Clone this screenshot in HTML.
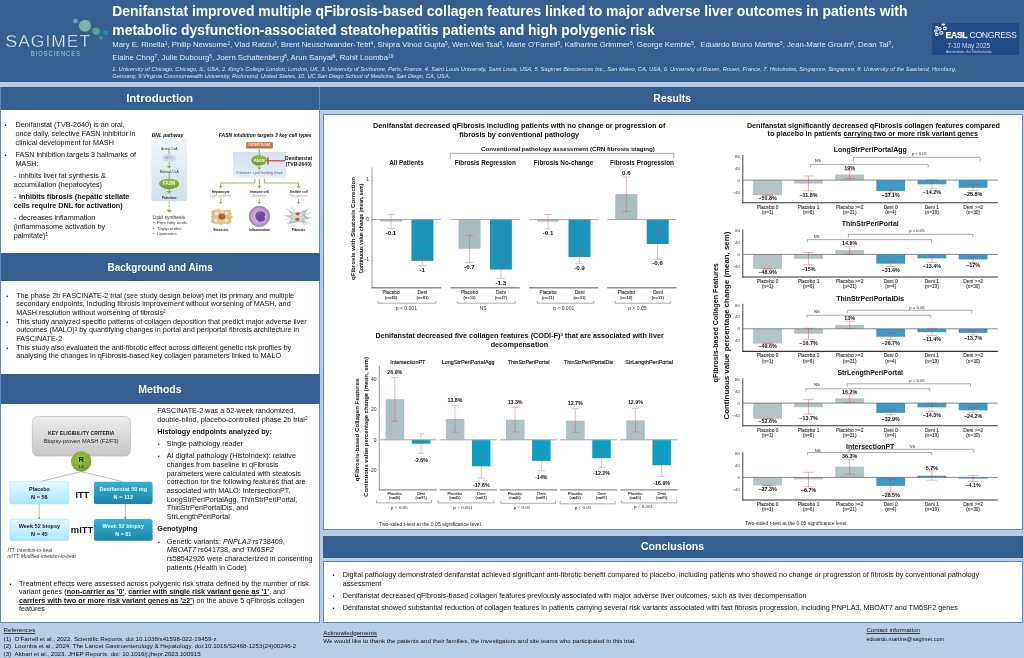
<!DOCTYPE html>
<html lang="en"><head><meta charset="utf-8"><title>Denifanstat qFibrosis poster</title>
<style>
html,body{margin:0;padding:0;}
body{width:1024px;height:658px;position:relative;overflow:hidden;background:#b8cce4;font-family:"Liberation Sans",sans-serif;color:#111;}
.t{position:absolute;white-space:nowrap;line-height:1.15;}
.b{position:absolute;box-sizing:border-box;}
.hd{position:absolute;background:#365f91;color:#fff;font-family:"Liberation Sans",sans-serif;font-weight:bold;text-align:center;box-sizing:border-box;}
.w{white-space:normal;}
sup{font-size:62%;line-height:0;vertical-align:baseline;position:relative;top:-0.42em;}
svg{position:absolute;left:0;top:0;overflow:visible;}
svg text{font-family:"Liberation Sans",sans-serif;}
u{text-decoration-thickness:0.45px;text-underline-offset:0.6px;text-decoration-color:rgba(0,0,0,0.7);}
</style></head>
<body>
<div class="b" style="left:0px;top:0px;width:1024px;height:81.5px;background:#365f91;"></div>
<svg width="1024" height="90" viewBox="0 0 1024 90"><path d="M75.5 21L85 25.7L96.1 31.1L105.8 33M96.1 31.1L101.1 38.1" stroke="#5f9aa0" stroke-width="0.35" fill="none"/><circle cx="85" cy="25.7" r="6.0" fill="#78b4a4"/><circle cx="75.5" cy="21" r="2.4" fill="#6aa9a2"/><circle cx="96.1" cy="31.1" r="3.7" fill="#55a398"/><circle cx="105.8" cy="33" r="2.4" fill="#0a98b6"/><circle cx="101.1" cy="38.1" r="1.5" fill="#4b9aa6"/></svg>
<div class="t " style="left:5.5px;top:30.7px;font-size:17.4px;letter-spacing:1.05px;color:#eef2f8;font-weight:normal;line-height:20px;-webkit-text-stroke:0.38px #365f91;">SAGIMET</div>
<div class="t" style="left:31.0px;top:48.7px;font-size:7.2px;line-height:9px;letter-spacing:1.15px;color:#b9cbe0;transform-origin:0 0;transform:scaleX(0.805);">BIOSCIENCES</div>
<div class="t " style="left:112.3px;top:3.2px;font-size:13.925px;color:#fff;font-weight:bold;line-height:17px;">Denifanstat improved multiple qFibrosis-based collagen features linked to major adverse liver outcomes in patients with</div>
<div class="t " style="left:112.3px;top:22.2px;font-size:13.925px;color:#fff;font-weight:bold;line-height:17px;">metabolic dysfunction-associated steatohepatitis patients and high polygenic risk</div>
<div class="t " style="left:112.3px;top:39.6px;font-size:7.75px;color:#e4ebf4;line-height:10px;">Mary E. Rinella<sup>1</sup>, Philip Newsome<sup>2</sup>, Vlad Ratziu<sup>3</sup>, Brent Neuschwander-Tetri<sup>4</sup>, Shipra Vinod Gupta<sup>5</sup>, Wen-Wei Tsai<sup>5</sup>, Marie O'Farrell<sup>5</sup>, Katharine Grimmer<sup>5</sup>, George Kemble<sup>5</sup>, &nbsp;Eduardo Bruno Martins<sup>5</sup>, Jean-Marie Grouin<sup>6</sup>, Dean Tai<sup>7</sup>,</div>
<div class="t " style="left:112.3px;top:53.0px;font-size:7.75px;color:#e4ebf4;line-height:10px;">Elaine Chng<sup>7</sup>, Julie Dubourg<sup>5</sup>, Joern Schattenberg<sup>8</sup>, Arun Sanyal<sup>9</sup>, Rohit Loomba<sup>10</sup></div>
<div class="t " style="left:112.3px;top:66.0px;font-size:5.685px;color:#dbe4f0;font-style:italic;line-height:7px;">1. University of Chicago, Chicago, IL, USA, 2. King's College London, London, UK, 3. University of Sorbonne, Paris, France, 4. Saint Louis University, Saint Louis, USA, 5. Sagimet Biosciences Inc., San Mateo, CA, USA, 6. University of Rouen, Rouen, France, 7. Histoindex, Singapore, Singapore, 8. University of the Saarland, Homburg,</div>
<div class="t " style="left:112.3px;top:72.7px;font-size:5.685px;color:#dbe4f0;font-style:italic;line-height:7px;">Germany, 9.Virginia Commonwealth University, Richmond, United States, 10. UC San Diego School of Medicine, San Diego, CA, USA.</div>
<div class="b" style="left:932px;top:23px;width:86.6px;height:32px;background:#234b8b;"></div>
<svg width="1024" height="90" viewBox="0 0 1024 90"><g fill="none" stroke="#f4f7fb" stroke-width="1.05"><ellipse cx="943.3" cy="24.6" rx="1.5" ry="0.5"/><ellipse cx="944.9" cy="28.4" rx="1.5" ry="1.3"/><ellipse cx="939.7" cy="28.8" rx="1.5" ry="1.3"/><ellipse cx="936.9" cy="27.3" rx="1.1" ry="0.9"/><ellipse cx="935.9" cy="31.0" rx="1.3" ry="1.2"/><ellipse cx="941.3" cy="32.8" rx="1.6" ry="1.4"/><ellipse cx="936.8" cy="34.3" rx="1.3" ry="1.1"/></g></svg>
<div class="t " style="left:945.5px;top:29.6px;font-size:8.7px;color:#fff;line-height:11px;letter-spacing:-0.33px;"><b style="-webkit-text-stroke:0.25px #fff">EASL</b> <span style="font-weight:normal;color:#e3eaf4">CONGRESS</span></div>
<div class="t " style="left:947.6px;top:41.9px;font-size:6.38px;color:#cfdaea;line-height:8px;">7-10 May 2025</div>
<div class="t " style="left:945.9px;top:50.1px;font-size:3.62px;color:#c3d0e4;line-height:5px;">Amsterdam, the Netherlands</div>
<div class="b" style="left:0px;top:86.5px;width:319.9px;height:536px;background:#fff;border:1px solid #5f88be;border-top:none;"></div>
<div class="hd" style="left:0px;top:86.5px;width:319.4px;height:23.2px;line-height:23.2px;font-size:11.2px;"><span style="display:inline-block;transform:scaleX(1.0257);">Introduction</span></div>
<div class="hd" style="left:0px;top:252.8px;width:319.9px;height:28.6px;line-height:28.6px;font-size:11.2px;"><span style="display:inline-block;transform:scaleX(0.8890);">Background and Aims</span></div>
<div class="hd" style="left:0px;top:373.9px;width:319.9px;height:30.2px;line-height:30.2px;font-size:11.2px;"><span style="display:inline-block;transform:scaleX(0.9426);">Methods</span></div>
<div class="b" style="left:0px;top:86.5px;width:1.2px;height:536px;background:#5f88be;"></div>
<div class="hd" style="left:320.1px;top:86.5px;width:703.9px;height:23.2px;line-height:23.2px;font-size:11.2px;"><span style="display:inline-block;transform:scaleX(0.9331);">Results</span></div>
<div class="b" style="left:322.9px;top:114px;width:700.3px;height:416px;background:#fff;border:1px solid #5f88be;"></div>
<div class="hd" style="left:322.9px;top:535.8px;width:700.3px;height:21.8px;line-height:21.8px;font-size:11.2px;"><span style="display:inline-block;transform:scaleX(0.9404);">Conclusions</span></div>
<div class="b" style="left:322.9px;top:560.6px;width:700.3px;height:62px;background:#fff;border:1px solid #5f88be;"></div>
<div class="t" style="left:4.4px;top:121.30px;font-size:5.6px;line-height:9px;">&bull;</div>
<div class="t" style="left:15.6px;top:120.40px;font-size:7.22px;line-height:9px;">Denifanstat (TVB-2640) is an oral,</div>
<div class="t" style="left:15.6px;top:129.20px;font-size:7.22px;line-height:9px;">once daily, selective FASN inhibitor in</div>
<div class="t" style="left:15.6px;top:137.80px;font-size:7.22px;line-height:9px;">clinical development for MASH</div>
<div class="t" style="left:4.4px;top:151.10px;font-size:5.6px;line-height:9px;">&bull;</div>
<div class="t" style="left:15.6px;top:150.20px;font-size:7.22px;line-height:9px;">FASN inhibition targets 3 hallmarks of</div>
<div class="t" style="left:15.6px;top:158.80px;font-size:7.22px;line-height:9px;">MASH:</div>
<div class="t" style="left:13.7px;top:171.30px;font-size:7.22px;line-height:9px;"><span style="display:inline-block;width:5.4px">-</span>inhibits liver fat synthesis &amp;</div>
<div class="t" style="left:13.7px;top:179.90px;font-size:7.22px;line-height:9px;">accumulation (hepatocytes)</div>
<div class="t" style="left:13.7px;top:191.80px;font-size:7.22px;line-height:9px;"><span style="display:inline-block;width:5.4px">-</span><b>inhibits fibrosis (hepatic stellate</b></div>
<div class="t" style="left:13.7px;top:200.60px;font-size:7.22px;line-height:9px;"><b>cells require DNL for activation)</b></div>
<div class="t" style="left:13.7px;top:213.00px;font-size:7.22px;line-height:9px;"><span style="display:inline-block;width:5.4px">-</span>decreases inflammation</div>
<div class="t" style="left:13.7px;top:221.90px;font-size:7.22px;line-height:9px;">(inflammasome activation by</div>
<div class="t" style="left:13.7px;top:230.70px;font-size:7.22px;line-height:9px;">palmitate)<sup>1</sup></div>
<div class="t" style="left:6.2px;top:291.60px;font-size:5.6px;line-height:9px;">&bull;</div>
<div class="t" style="left:16.2px;top:290.70px;font-size:7.22px;line-height:9px;">The phase 2b FASCINATE-2 trial (see study design below) met its primary and multiple</div>
<div class="t" style="left:16.2px;top:299.20px;font-size:7.22px;line-height:9px;">secondary endpoints, including fibrosis improvement without worsening of MASH, and</div>
<div class="t" style="left:16.2px;top:307.60px;font-size:7.22px;line-height:9px;">MASH resolution without worsening of fibrosis<sup>2</sup></div>
<div class="t" style="left:6.2px;top:317.90px;font-size:5.6px;line-height:9px;">&bull;</div>
<div class="t" style="left:16.2px;top:317.00px;font-size:7.22px;line-height:9px;">This study analyzed specific patterns of collagen deposition that predict major adverse liver</div>
<div class="t" style="left:16.2px;top:325.40px;font-size:7.22px;line-height:9px;">outcomes (MALO)<sup>3</sup> by quantifying changes in portal and periportal fibrosis architecture in</div>
<div class="t" style="left:16.2px;top:333.80px;font-size:7.22px;line-height:9px;">FASCINATE-2</div>
<div class="t" style="left:6.2px;top:343.80px;font-size:5.6px;line-height:9px;">&bull;</div>
<div class="t" style="left:16.2px;top:342.90px;font-size:7.22px;line-height:9px;">This study also evaluated the anti-fibrotic effect across different genetic risk profiles by</div>
<div class="t" style="left:16.2px;top:351.40px;font-size:7.22px;line-height:9px;">analysing the changes in qFibrosis-based key collagen parameters linked to MALO</div>
<div class="t" style="left:157.3px;top:405.90px;font-size:7.22px;line-height:9px;">FASCINATE-2 was a 52-week randomized,</div>
<div class="t" style="left:157.3px;top:414.70px;font-size:7.22px;line-height:9px;">double-blind, placebo-controlled phase 2b trial<sup>2</sup></div>
<div class="t" style="left:157.3px;top:427.00px;font-size:7.22px;line-height:9px;"><b>Histology endpoints analyzed by:</b></div>
<div class="t" style="left:157.79999999999998px;top:439.80px;font-size:5.6px;line-height:9px;">&bull;</div>
<div class="t" style="left:166.8px;top:438.90px;font-size:7.22px;line-height:9px;">Single pathology reader</div>
<div class="t" style="left:157.79999999999998px;top:452.00px;font-size:5.6px;line-height:9px;">&bull;</div>
<div class="t" style="left:166.8px;top:451.10px;font-size:7.22px;line-height:9px;">AI digital pathology (HistoIndex): relative</div>
<div class="t" style="left:166.8px;top:459.90px;font-size:7.22px;line-height:9px;">changes from baseline in qFibrosis</div>
<div class="t" style="left:166.8px;top:468.60px;font-size:7.22px;line-height:9px;">parameters were calculated with steatosis</div>
<div class="t" style="left:166.8px;top:477.40px;font-size:7.22px;line-height:9px;">correction for the following features that are</div>
<div class="t" style="left:166.8px;top:486.10px;font-size:7.22px;line-height:9px;">associated with MALO: IntersectionPT,</div>
<div class="t" style="left:166.8px;top:494.80px;font-size:7.22px;line-height:9px;">LongStrPeriPortalAgg, ThinStrPeriPortal,</div>
<div class="t" style="left:166.8px;top:503.30px;font-size:7.22px;line-height:9px;">ThinStrPeriPortalDis, and</div>
<div class="t" style="left:166.8px;top:512.00px;font-size:7.22px;line-height:9px;">StrLengthPeriPortal</div>
<div class="t" style="left:157.3px;top:524.20px;font-size:7.22px;line-height:9px;"><b>Genotyping</b></div>
<div class="t" style="left:157.79999999999998px;top:537.70px;font-size:5.6px;line-height:9px;">&bull;</div>
<div class="t" style="left:166.8px;top:536.80px;font-size:7.22px;line-height:9px;">Genetic variants: <i>PNPLA3</i> rs738409,</div>
<div class="t" style="left:166.8px;top:545.30px;font-size:7.22px;line-height:9px;"><i>MBOAT7</i> rs641738, and <i>TM6SF2</i></div>
<div class="t" style="left:166.8px;top:554.00px;font-size:7.22px;line-height:9px;">rs58542926 were characterized in consenting</div>
<div class="t" style="left:166.8px;top:562.70px;font-size:7.22px;line-height:9px;">patients (Health in Code)</div>
<div class="t" style="left:9.6px;top:579.50px;font-size:5.6px;line-height:9px;">&bull;</div>
<div class="t" style="left:18.9px;top:578.60px;font-size:7.22px;line-height:9px;">Treatment effects were assessed across polygenic risk strata defined by the number of risk</div>
<div class="t" style="left:18.9px;top:587.20px;font-size:7.22px;line-height:9px;">variant genes (<b><u>non-carrier as '0'</u></b>, <b><u>carrier with single risk variant gene as '1'</u></b>, and</div>
<div class="t" style="left:18.9px;top:595.80px;font-size:7.22px;line-height:9px;"><b><u>carriers with two or more risk variant genes as '&ge;2'</u></b>) on the above 5 qFibrosis collagen</div>
<div class="t" style="left:18.9px;top:604.40px;font-size:7.22px;line-height:9px;">features</div>
<div class="t" style="left:3.6px;top:625.50px;font-size:6.2px;line-height:8px;"><u>References</u></div>
<div class="t" style="left:3.6px;top:634.60px;font-size:6.2px;line-height:8px;">(1) &nbsp;O'Farrell et al., 2022. Scientific Reports. doi:10.1038/s41598-022-19459-z</div>
<div class="t" style="left:3.6px;top:641.70px;font-size:6.2px;line-height:8px;">(2) &nbsp;Loomba et al., 2024. The Lancet Gastroenterology &amp; Hepatology. doi:10.1016/S2468-1253(24)00246-2</div>
<div class="t" style="left:3.6px;top:649.70px;font-size:6.2px;line-height:8px;">(3) &nbsp;Akbari et al., 2023. JHEP Reports. doi: 10.1016/j.jhepr.2023.100915</div>
<div class="t" style="left:323.3px;top:628.50px;font-size:6.2px;line-height:8px;"><u>Acknowledgements</u></div>
<div class="t" style="left:323.3px;top:636.90px;font-size:6.2px;line-height:8px;">We would like to thank the patients and their families, the investigators and site teams who participated in this trial.</div>
<div class="t" style="left:866.4px;top:625.90px;font-size:6.2px;line-height:8px;"><u>Contact information</u></div>
<div class="t" style="left:866.4px;top:635.20px;font-size:5.6px;line-height:8px;">eduardo.martins@sagimet.com</div>
<svg width="1024" height="658" viewBox="0 0 1024 658"><defs><linearGradient id="gbox" x1="0" y1="0" x2="0" y2="1"><stop offset="0" stop-color="#f1f6f9"/><stop offset="1" stop-color="#cfdfe9"/></linearGradient><linearGradient id="gbox2" x1="0" y1="0" x2="0" y2="1"><stop offset="0" stop-color="#d3e2ee"/><stop offset="1" stop-color="#e3edf4"/></linearGradient><linearGradient id="ggrn" x1="0" y1="0" x2="0" y2="1"><stop offset="0" stop-color="#8fbe45"/><stop offset="1" stop-color="#6fa12f"/></linearGradient><linearGradient id="gsug" x1="0" y1="0" x2="0" y2="1"><stop offset="0" stop-color="#d08a63"/><stop offset="1" stop-color="#b96d48"/></linearGradient><radialGradient id="gimm" cx="0.5" cy="0.5" r="0.5"><stop offset="0" stop-color="#e9dff0"/><stop offset="0.75" stop-color="#b99bd0"/><stop offset="1" stop-color="#9a78b8"/></radialGradient></defs><text x="151.70" y="136.68" font-size="5.0" text-anchor="start" font-weight="bold" font-style="italic" fill="#111">DNL pathway</text><rect x="151.40" y="137.90" width="35.60" height="63.00" rx="0.8" fill="url(#gbox)"/><text x="169.20" y="149.67" font-size="3.3" text-anchor="middle" font-weight="normal" font-style="normal" fill="#333">Acetyl-CoA</text><path d="M169.2 150.8V154.4" stroke="#84b540" stroke-width="0.9" fill="none"/><ellipse cx="169.2" cy="158.2" rx="7.4" ry="3.9" fill="#d6d9e7"/><text x="169.20" y="159.41" font-size="3.4" text-anchor="middle" font-weight="normal" font-style="normal" fill="#8e93a8">ACC</text><path d="M169.20 162.10V166.30" stroke="#84b540" stroke-width="0.9" fill="none"/><path d="M166.60 166.00H171.80L169.20 168.60Z" stroke="none" stroke-width="0.6" fill="#84b540"/><text x="169.20" y="173.17" font-size="3.3" text-anchor="middle" font-weight="normal" font-style="normal" fill="#333">Malonyl-CoA</text><path d="M169.2 174.3V178.6" stroke="#84b540" stroke-width="0.9" fill="none"/><ellipse cx="169.2" cy="183.8" rx="10.1" ry="5.4" fill="url(#ggrn)"/><text x="169.20" y="185.43" font-size="4.6" text-anchor="middle" font-weight="bold" font-style="normal" fill="#f4f9ea">FASN</text><path d="M169.20 189.00V191.40" stroke="#84b540" stroke-width="0.9" fill="none"/><path d="M166.40 191.10H172.00L169.20 193.70Z" stroke="none" stroke-width="0.6" fill="#84b540"/><text x="169.20" y="198.67" font-size="3.3" text-anchor="middle" font-weight="bold" font-style="normal" fill="#333">Palmitate</text><path d="M169.20 201.50V210.30" stroke="#84b540" stroke-width="0.9" fill="none" stroke-dasharray="2.2 1.2"/><path d="M166.40 210.00H172.00L169.20 212.80Z" stroke="none" stroke-width="0.6" fill="#84b540"/><text x="152.60" y="219.16" font-size="4.97" text-anchor="start" font-weight="normal" font-style="normal" fill="#333">Lipid synthesis</text><text x="153.00" y="224.46" font-size="4.4" text-anchor="start" font-weight="normal" font-style="normal" fill="#333">&bull; &nbsp;Free fatty acids</text><text x="153.00" y="229.86" font-size="4.4" text-anchor="start" font-weight="normal" font-style="normal" fill="#333">&bull; &nbsp;Triglycerides</text><text x="153.00" y="235.26" font-size="4.4" text-anchor="start" font-weight="normal" font-style="normal" fill="#333">&bull; &nbsp;Lipotoxins</text><text x="218.80" y="136.67" font-size="4.99" text-anchor="start" font-weight="bold" font-style="italic" fill="#111">FASN inhibition targets 3 key cell types</text><rect x="246.10" y="142.00" width="26.80" height="6.60" rx="1.0" fill="url(#gsug)"/><text x="259.50" y="146.26" font-size="2.7" text-anchor="middle" font-weight="bold" font-style="normal" fill="#f6e6dc">DIETARY SUGAR</text><rect x="232.90" y="152.00" width="53.30" height="25.60" rx="0" fill="url(#gbox2)"/><path d="M259.3 149.2V155.8" stroke="#84b540" stroke-width="0.9" fill="none"/><ellipse cx="259.0" cy="160.3" rx="7.9" ry="5.4" fill="url(#ggrn)"/><text x="259.30" y="161.98" font-size="3.9" text-anchor="middle" font-weight="bold" font-style="normal" fill="#f4f9ea">FASN</text><path d="M259.30 165.20V167.90" stroke="#84b540" stroke-width="0.9" fill="none"/><path d="M257.30 167.60H261.30L259.30 169.80Z" stroke="none" stroke-width="0.6" fill="#84b540"/><text x="259.40" y="173.94" font-size="3.5" text-anchor="middle" font-weight="normal" font-style="italic" fill="#4b5fae">Palmitate: Lipid building block</text><path d="M267.9 157.2V164.4" stroke="#e3262d" stroke-width="1.2" fill="none"/><path d="M268.0 160.8H285.0" stroke="#e3262d" stroke-width="1.1" fill="none"/><text x="298.60" y="159.56" font-size="4.96" text-anchor="middle" font-weight="bold" font-style="normal" fill="#111">Denifanstat</text><text x="298.60" y="165.56" font-size="4.96" text-anchor="middle" font-weight="bold" font-style="normal" fill="#111">(TVB-2640)</text><path d="M254.9 178.6V183.0H220.6V186.2" stroke="#84b540" stroke-width="0.9" fill="none"/><path d="M218.8 186.0H222.4L220.6 188.4Z" stroke="none" stroke-width="0.6" fill="#84b540"/><path d="M259.30 178.60V186.30" stroke="#84b540" stroke-width="0.9" fill="none"/><path d="M257.40 186.00H261.20L259.30 188.40Z" stroke="none" stroke-width="0.6" fill="#84b540"/><path d="M264.3 178.6V183.0H298.5V186.2" stroke="#84b540" stroke-width="0.9" fill="none"/><path d="M296.7 186.0H300.3L298.5 188.4Z" stroke="none" stroke-width="0.6" fill="#84b540"/><text x="220.80" y="193.07" font-size="3.3" text-anchor="middle" font-weight="bold" font-style="italic" fill="#222">Hepatocyte</text><text x="220.80" y="197.04" font-size="3.2" text-anchor="middle" font-weight="normal" font-style="italic" fill="#a0a0a0">Lipid synthesis</text><path d="M220.80 198.80V202.30" stroke="#84b540" stroke-width="0.8" fill="none"/><path d="M219.10 202.00H222.50L220.80 204.00Z" stroke="none" stroke-width="0.6" fill="#84b540"/><text x="220.80" y="230.62" font-size="3.45" text-anchor="middle" font-weight="bold" font-style="normal" fill="#222">Steatosis</text><text x="259.40" y="193.07" font-size="3.3" text-anchor="middle" font-weight="bold" font-style="italic" fill="#222">Immune cell</text><text x="259.40" y="197.04" font-size="3.2" text-anchor="middle" font-weight="normal" font-style="italic" fill="#a0a0a0">Activation</text><path d="M259.40 198.80V202.30" stroke="#84b540" stroke-width="0.8" fill="none"/><path d="M257.70 202.00H261.10L259.40 204.00Z" stroke="none" stroke-width="0.6" fill="#84b540"/><text x="259.40" y="230.62" font-size="3.45" text-anchor="middle" font-weight="bold" font-style="normal" fill="#222">Inflammation</text><text x="298.50" y="193.07" font-size="3.3" text-anchor="middle" font-weight="bold" font-style="italic" fill="#222">Stellate cell</text><text x="298.50" y="197.04" font-size="3.2" text-anchor="middle" font-weight="normal" font-style="italic" fill="#a0a0a0">Fibrogenesis</text><path d="M298.50 198.80V202.30" stroke="#84b540" stroke-width="0.8" fill="none"/><path d="M296.80 202.00H300.20L298.50 204.00Z" stroke="none" stroke-width="0.6" fill="#84b540"/><text x="298.50" y="230.62" font-size="3.45" text-anchor="middle" font-weight="bold" font-style="normal" fill="#222">Fibrosis</text><rect x="211.60" y="210.00" width="19.80" height="13.80" rx="2.2" fill="#d9c19a"/><path d="M210.6 211.5H213.4" stroke="#b79f7c" stroke-width="0.5" fill="none"/><path d="M210.6 214.0H213.4" stroke="#b79f7c" stroke-width="0.5" fill="none"/><path d="M210.6 216.5H213.4" stroke="#b79f7c" stroke-width="0.5" fill="none"/><path d="M210.6 219.0H213.4" stroke="#b79f7c" stroke-width="0.5" fill="none"/><path d="M210.6 221.5H213.4" stroke="#b79f7c" stroke-width="0.5" fill="none"/><circle cx="216.6" cy="213.6" r="1.9" fill="#f6e9b8"/><circle cx="226.6" cy="213.0" r="1.6" fill="#f6e9b8"/><circle cx="215.8" cy="220.4" r="1.7" fill="#f6e9b8"/><circle cx="226.2" cy="220.6" r="1.9" fill="#f6e9b8"/><circle cx="222.2" cy="211.6" r="1.3" fill="#f6e9b8"/><circle cx="218.0" cy="209.8" r="1.4" fill="#f1c23c"/><circle cx="229.6" cy="210.8" r="1.3" fill="#f1c23c"/><circle cx="231.4" cy="217.0" r="1.2" fill="#f1c23c"/><circle cx="221.0" cy="223.6" r="1.5" fill="#f1c23c"/><circle cx="227.8" cy="223.4" r="1.2" fill="#f1c23c"/><ellipse cx="221.8" cy="216.6" rx="3.3" ry="2.9" fill="#b4552e"/><ellipse cx="222.6" cy="216.0" rx="1.6" ry="1.3" fill="#cf6a3a"/><circle cx="259.4" cy="216.4" r="10.2" fill="url(#gimm)" stroke="#a27fc1" stroke-width="0.9"/><circle cx="259.4" cy="216.4" r="8.0" fill="none" stroke="#cdb9df" stroke-width="1.0" stroke-dasharray="1 1.1"/><path d="M255.4 215.4C255.6 211.6 260.2 210.2 263.4 212.0C266.2 213.6 266.0 216.6 263.6 216.8C266.0 217.8 265.2 221.0 262.0 221.6C258.0 222.2 255.2 219.4 255.4 215.4Z" stroke="none" stroke-width="0.6" fill="#6d4aa0"/><path d="M257.4 215.4C257.8 213.2 260.0 212.4 261.8 213.2" stroke="#8f70bb" stroke-width="0.8" fill="none"/><g transform="translate(297.8,216.4) scale(0.86,0.8) translate(-298.2,-216.6)"><path d="M284.0 206.6L312.6 226.2" stroke="#8db3d9" stroke-width="0.6" fill="none"/><path d="M284.2 226.0L312.4 205.6" stroke="#8db3d9" stroke-width="0.6" fill="none"/><path d="M282.4 215.0L314.2 218.6" stroke="#8db3d9" stroke-width="0.6" fill="none"/><path d="M283.0 221.2L313.6 212.0" stroke="#8db3d9" stroke-width="0.6" fill="none"/><path d="M290.8 204.8L306.8 228.8" stroke="#8db3d9" stroke-width="0.6" fill="none"/><path d="M286.6 209.6L295.0 212.2L302.0 210.8L310.6 207.2L305.6 214.4L311.8 219.4L304.4 220.6L309.4 226.2L300.4 223.4L294.4 224.4L286.6 226.4L291.6 219.6L284.4 216.4L291.2 214.2Z" stroke="none" stroke-width="0.6" fill="#b4bdb0"/><path d="M289.6 211.6L296.0 213.6L301.6 212.6L306.6 210.6L303.6 215.4L307.6 218.6L302.6 219.6L305.0 223.2L299.6 221.6L294.6 222.4L290.2 223.4L293.4 218.8L289.0 216.6L293.2 215.2Z" stroke="none" stroke-width="0.6" fill="#d5d9ce"/><ellipse cx="298.0" cy="213.4" rx="2.3" ry="1.9" fill="#c0583a"/><ellipse cx="297.6" cy="220.2" rx="2.3" ry="1.9" fill="#c0583a"/></g><defs><linearGradient id="ggry" x1="0" y1="0" x2="0" y2="1"><stop offset="0" stop-color="#ececec"/><stop offset="1" stop-color="#c6c6c6"/></linearGradient><linearGradient id="glb" x1="0" y1="0" x2="0" y2="1"><stop offset="0" stop-color="#e4f8ff"/><stop offset="1" stop-color="#a9e6fb"/></linearGradient><linearGradient id="gdb" x1="0" y1="0" x2="0" y2="1"><stop offset="0" stop-color="#34b3d8"/><stop offset="1" stop-color="#1c84a6"/></linearGradient><radialGradient id="gR" cx="0.45" cy="0.4" r="0.6"><stop offset="0" stop-color="#9cc544"/><stop offset="1" stop-color="#7aa32c"/></radialGradient></defs><rect x="32.40" y="416.50" width="98.00" height="39.50" rx="5.2" fill="url(#ggry)" stroke="#b4b4b4" stroke-width="0.6"/><text x="81.30" y="434.79" font-size="5.6" text-anchor="middle" font-weight="bold" font-style="normal" fill="#1a1a1a" textLength="66.5" lengthAdjust="spacingAndGlyphs">KEY ELIGIBILITY CRITERIA</text><text x="81.30" y="442.69" font-size="5.9" text-anchor="middle" font-weight="normal" font-style="normal" fill="#1a1a1a" textLength="74.5" lengthAdjust="spacingAndGlyphs">Biopsy-proven MASH (F2/F3)</text><path d="M81.2 471.6L40.0 481.6M81.2 471.6L122.4 481.6" stroke="#777" stroke-width="0.5" fill="none"/><path d="M39.2 504.0V519.0M125.3 504.0V519.0" stroke="#777" stroke-width="0.5" fill="none"/><path d="M38.2 517.6H40.2L39.2 519.2ZM124.3 517.6H126.3L125.3 519.2Z" stroke="none" stroke-width="0.6" fill="#555"/><circle cx="81.2" cy="461.5" r="10.2" fill="url(#gR)"/><text x="81.20" y="461.90" font-size="7.6" text-anchor="middle" font-weight="bold" font-style="normal" fill="#1a1a1a">R</text><text x="81.20" y="467.68" font-size="3.6" text-anchor="middle" font-weight="bold" font-style="normal" fill="#1a1a1a">1:2</text><rect x="9.80" y="481.40" width="59.10" height="22.60" rx="2.6" fill="url(#glb)" stroke="#9fdcf0" stroke-width="0.5"/><rect x="93.90" y="481.80" width="58.70" height="22.20" rx="2.6" fill="url(#gdb)"/><rect x="9.80" y="519.00" width="59.10" height="21.80" rx="2.6" fill="url(#glb)" stroke="#9fdcf0" stroke-width="0.5"/><rect x="93.90" y="519.00" width="58.70" height="21.80" rx="2.6" fill="url(#gdb)"/><text x="39.40" y="491.19" font-size="5.6" text-anchor="middle" font-weight="bold" font-style="normal" fill="#1a1a1a" textLength="20.6" lengthAdjust="spacingAndGlyphs">Placebo</text><text x="39.40" y="498.79" font-size="5.6" text-anchor="middle" font-weight="bold" font-style="normal" fill="#1a1a1a" textLength="16.6" lengthAdjust="spacingAndGlyphs">N = 56</text><text x="123.30" y="491.19" font-size="5.6" text-anchor="middle" font-weight="bold" font-style="normal" fill="#eefaff" textLength="47.7" lengthAdjust="spacingAndGlyphs">Denifanstat 50 mg</text><text x="123.30" y="498.79" font-size="5.6" text-anchor="middle" font-weight="bold" font-style="normal" fill="#eefaff" textLength="19.6" lengthAdjust="spacingAndGlyphs">N = 112</text><text x="39.40" y="528.29" font-size="5.6" text-anchor="middle" font-weight="bold" font-style="normal" fill="#1a1a1a" textLength="41.5" lengthAdjust="spacingAndGlyphs">Week 52 biopsy</text><text x="39.40" y="535.89" font-size="5.6" text-anchor="middle" font-weight="bold" font-style="normal" fill="#1a1a1a" textLength="16.6" lengthAdjust="spacingAndGlyphs">N = 45</text><text x="123.30" y="528.29" font-size="5.6" text-anchor="middle" font-weight="bold" font-style="normal" fill="#eefaff" textLength="41.5" lengthAdjust="spacingAndGlyphs">Week 52 biopsy</text><text x="123.30" y="535.89" font-size="5.6" text-anchor="middle" font-weight="bold" font-style="normal" fill="#eefaff" textLength="16.0" lengthAdjust="spacingAndGlyphs">N = 81</text><text x="82.20" y="498.24" font-size="9.4" text-anchor="middle" font-weight="bold" font-style="normal" fill="#111" textLength="13.6" lengthAdjust="spacingAndGlyphs">ITT</text><text x="82.00" y="532.54" font-size="9.4" text-anchor="middle" font-weight="bold" font-style="normal" fill="#111" textLength="22.4" lengthAdjust="spacingAndGlyphs">mITT</text><text x="7.60" y="551.90" font-size="4.8" text-anchor="start" font-weight="normal" font-style="italic" fill="#333">ITT: Intention-to-treat</text><text x="7.60" y="558.10" font-size="4.8" text-anchor="start" font-weight="normal" font-style="italic" fill="#333">mITT: Modified-intention-to-treat</text></svg>
<svg width="1024" height="658" viewBox="0 0 1024 658"><text x="519.20" y="127.77" font-size="7.24" text-anchor="middle" font-weight="bold" fill="#111">Denifanstat decreased qFibrosis including patients with no change or progression of</text><text x="519.20" y="136.57" font-size="7.24" text-anchor="middle" font-weight="bold" fill="#111">fibrosis by conventional pathology</text><text x="568.00" y="150.89" font-size="6.17" text-anchor="middle" font-weight="bold" fill="#111">Conventional pathology assessment (CRN fibrosis staging)</text><path d="M450.20 158.50V153.30H673.80V158.50" stroke="#777" stroke-width="0.6" fill="none"/><text transform="translate(353.30,228.50) rotate(-90)" x="0" y="2.18" font-size="6.147540983606558" text-anchor="middle" font-weight="bold" fill="#111">qFibrosis with Steatosis Correction</text><text transform="translate(361.60,228.70) rotate(-90)" x="0" y="1.75" font-size="4.917585822282811" text-anchor="middle" font-weight="bold" fill="#111">Continuous value change (mean, sem)</text><line x1="372.00" y1="167.60" x2="372.00" y2="288.30" stroke="#8c8c8c" stroke-width="0.9"/><text x="369.00" y="181.43" font-size="5.0" text-anchor="end" font-weight="normal" fill="#333">1</text><text x="369.00" y="221.28" font-size="5.0" text-anchor="end" font-weight="normal" fill="#333">0</text><text x="369.00" y="261.12" font-size="5.0" text-anchor="end" font-weight="normal" fill="#333">-1</text><text x="406.50" y="164.95" font-size="6.34" text-anchor="middle" font-weight="bold" fill="#111">All Patients</text><rect x="380.00" y="219.50" width="22.00" height="2.10" fill="#a9bdc1"/><rect x="411.40" y="219.50" width="22.00" height="41.40" fill="#1b93ba"/><line x1="372.00" y1="219.50" x2="441.20" y2="219.50" stroke="#8c8c8c" stroke-width="0.7"/><line x1="371.55" y1="287.80" x2="441.20" y2="287.80" stroke="#909090" stroke-width="1.4"/><path d="M387.00 214.60H395.00M391.00 214.60V228.80M387.00 228.80H395.00" stroke="#e63c3e" stroke-width="0.65" fill="none" stroke-opacity="0.55"/><path d="M418.30 255.60H426.30M422.30 255.60V265.60M418.30 265.60H426.30" stroke="#e63c3e" stroke-width="0.65" fill="none" stroke-opacity="0.55"/><text x="391.00" y="235.08" font-size="6.15" text-anchor="middle" font-weight="bold" fill="#111">-0.1</text><text x="422.30" y="271.98" font-size="6.15" text-anchor="middle" font-weight="bold" fill="#111">-1</text><text x="391.00" y="293.80" font-size="4.78" text-anchor="middle" font-weight="normal" fill="#333" stroke="#333" stroke-width="0.1">Placebo</text><text x="391.00" y="298.86" font-size="4.1" text-anchor="middle" font-weight="bold" fill="#333">(n=45)</text><text x="422.50" y="293.80" font-size="4.78" text-anchor="middle" font-weight="normal" fill="#333" stroke="#333" stroke-width="0.1">Deni</text><text x="422.50" y="298.86" font-size="4.1" text-anchor="middle" font-weight="bold" fill="#333">(n=81)</text><path d="M377.90 301.00V303.20H435.90V301.00" stroke="#777" stroke-width="0.6" fill="none"/><text x="406.40" y="309.79" font-size="5.04" text-anchor="middle" font-weight="normal" fill="#333">p &lt; 0.001</text><text x="485.20" y="164.96" font-size="6.37" text-anchor="middle" font-weight="bold" fill="#111">Fibrosis Regression</text><rect x="458.50" y="219.50" width="22.00" height="29.20" fill="#a9bdc1"/><rect x="489.90" y="219.50" width="22.00" height="50.00" fill="#1b93ba"/><line x1="450.50" y1="219.50" x2="519.70" y2="219.50" stroke="#8c8c8c" stroke-width="0.7"/><line x1="450.50" y1="287.80" x2="519.70" y2="287.80" stroke="#909090" stroke-width="1.4"/><path d="M465.50 235.30H473.50M469.50 235.30V262.50M465.50 262.50H473.50" stroke="#e63c3e" stroke-width="0.65" fill="none" stroke-opacity="0.55"/><path d="M496.80 260.50H504.80M500.80 260.50V278.30M496.80 278.30H504.80" stroke="#e63c3e" stroke-width="0.65" fill="none" stroke-opacity="0.55"/><text x="469.50" y="269.18" font-size="6.15" text-anchor="middle" font-weight="bold" fill="#111">-0.7</text><text x="500.80" y="284.78" font-size="6.15" text-anchor="middle" font-weight="bold" fill="#111">-1.3</text><text x="469.50" y="293.80" font-size="4.78" text-anchor="middle" font-weight="normal" fill="#333" stroke="#333" stroke-width="0.1">Placebo</text><text x="469.50" y="298.86" font-size="4.1" text-anchor="middle" font-weight="bold" fill="#333">(n=12)</text><text x="501.00" y="293.80" font-size="4.78" text-anchor="middle" font-weight="normal" fill="#333" stroke="#333" stroke-width="0.1">Deni</text><text x="501.00" y="298.86" font-size="4.1" text-anchor="middle" font-weight="bold" fill="#333">(n=37)</text><path d="M457.20 301.00V303.20H515.40V301.00" stroke="#777" stroke-width="0.6" fill="none"/><text x="483.20" y="309.79" font-size="5.04" text-anchor="middle" font-weight="normal" fill="#333">NS</text><text x="563.50" y="164.96" font-size="6.36" text-anchor="middle" font-weight="bold" fill="#111">Fibrosis No-change</text><rect x="537.10" y="219.50" width="22.00" height="2.10" fill="#a9bdc1"/><rect x="568.50" y="219.50" width="22.00" height="37.50" fill="#1b93ba"/><line x1="529.10" y1="219.50" x2="598.30" y2="219.50" stroke="#8c8c8c" stroke-width="0.7"/><line x1="529.10" y1="287.80" x2="598.30" y2="287.80" stroke="#909090" stroke-width="1.4"/><path d="M544.10 214.50H552.10M548.10 214.50V228.80M544.10 228.80H552.10" stroke="#e63c3e" stroke-width="0.65" fill="none" stroke-opacity="0.55"/><path d="M575.40 250.50H583.40M579.40 250.50V263.40M575.40 263.40H583.40" stroke="#e63c3e" stroke-width="0.65" fill="none" stroke-opacity="0.55"/><text x="548.10" y="235.08" font-size="6.15" text-anchor="middle" font-weight="bold" fill="#111">-0.1</text><text x="579.40" y="269.88" font-size="6.15" text-anchor="middle" font-weight="bold" fill="#111">-0.9</text><text x="548.10" y="293.80" font-size="4.78" text-anchor="middle" font-weight="normal" fill="#333" stroke="#333" stroke-width="0.1">Placebo</text><text x="548.10" y="298.86" font-size="4.1" text-anchor="middle" font-weight="bold" fill="#333">(n=21)</text><text x="579.60" y="293.80" font-size="4.78" text-anchor="middle" font-weight="normal" fill="#333" stroke="#333" stroke-width="0.1">Deni</text><text x="579.60" y="298.86" font-size="4.1" text-anchor="middle" font-weight="bold" fill="#333">(n=31)</text><path d="M537.30 301.00V303.20H593.70V301.00" stroke="#777" stroke-width="0.6" fill="none"/><text x="563.70" y="309.79" font-size="5.04" text-anchor="middle" font-weight="normal" fill="#333">p &lt; 0.001</text><text x="642.00" y="164.97" font-size="6.4" text-anchor="middle" font-weight="bold" fill="#111">Fibrosis Progression</text><rect x="615.30" y="194.10" width="22.00" height="25.40" fill="#a9bdc1"/><rect x="646.70" y="219.50" width="22.00" height="24.50" fill="#1b93ba"/><line x1="607.30" y1="219.50" x2="676.50" y2="219.50" stroke="#8c8c8c" stroke-width="0.7"/><line x1="607.30" y1="287.80" x2="676.50" y2="287.80" stroke="#909090" stroke-width="1.4"/><path d="M622.30 177.00H630.30M626.30 177.00V211.40M622.30 211.40H630.30" stroke="#e63c3e" stroke-width="0.65" fill="none" stroke-opacity="0.55"/><path d="M653.60 229.00H661.60M657.60 229.00V259.30M653.60 259.30H661.60" stroke="#e63c3e" stroke-width="0.65" fill="none" stroke-opacity="0.55"/><text x="626.30" y="175.08" font-size="6.15" text-anchor="middle" font-weight="bold" fill="#111">0.6</text><text x="657.60" y="265.08" font-size="6.15" text-anchor="middle" font-weight="bold" fill="#111">-0.6</text><text x="626.30" y="293.80" font-size="4.78" text-anchor="middle" font-weight="normal" fill="#333" stroke="#333" stroke-width="0.1">Placebo</text><text x="626.30" y="298.86" font-size="4.1" text-anchor="middle" font-weight="bold" fill="#333">(n=12)</text><text x="657.80" y="293.80" font-size="4.78" text-anchor="middle" font-weight="normal" fill="#333" stroke="#333" stroke-width="0.1">Deni</text><text x="657.80" y="298.86" font-size="4.1" text-anchor="middle" font-weight="bold" fill="#333">(n=13)</text><path d="M615.20 301.00V303.20H670.80V301.00" stroke="#777" stroke-width="0.6" fill="none"/><text x="637.50" y="309.79" font-size="5.04" text-anchor="middle" font-weight="normal" fill="#333">p &lt; 0.05</text><text x="519.60" y="338.47" font-size="7.24" text-anchor="middle" font-weight="bold" fill="#111">Denifanstat decreased five collagen features (CODI-F)<tspan dy="-2.4" font-size="4.4">3</tspan><tspan dy="2.4"> that are associated with liver</tspan></text><text x="519.40" y="346.57" font-size="7.24" text-anchor="middle" font-weight="bold" fill="#111">decompensation</text><text transform="translate(356.70,430.00) rotate(-90)" x="0" y="2.19" font-size="6.16" text-anchor="middle" font-weight="bold" fill="#111">qFibrosis-based Collagen Features</text><text transform="translate(365.60,427.00) rotate(-90)" x="0" y="2.08" font-size="5.85" text-anchor="middle" font-weight="bold" fill="#111">Continuous value percentage change (mean, sem)</text><line x1="379.30" y1="366.00" x2="379.30" y2="490.40" stroke="#8c8c8c" stroke-width="0.9"/><text x="376.60" y="381.30" font-size="5.0" text-anchor="end" font-weight="normal" fill="#333">40</text><text x="376.60" y="411.44" font-size="5.0" text-anchor="end" font-weight="normal" fill="#333">20</text><text x="376.60" y="441.57" font-size="5.0" text-anchor="end" font-weight="normal" fill="#333">0</text><text x="376.60" y="471.71" font-size="5.0" text-anchor="end" font-weight="normal" fill="#333">-20</text><text x="407.80" y="363.55" font-size="5.48" text-anchor="middle" font-weight="normal" fill="#111" stroke="#111" stroke-width="0.14">IntersectionPT</text><rect x="385.70" y="399.26" width="18.50" height="40.54" fill="#adc0c4"/><rect x="411.80" y="439.80" width="18.50" height="3.92" fill="#0a9fc6"/><line x1="379.30" y1="439.80" x2="436.80" y2="439.80" stroke="#a8a8a8" stroke-width="1.0"/><line x1="378.85" y1="489.80" x2="436.80" y2="489.80" stroke="#909090" stroke-width="1.3"/><path d="M391.30 377.40H398.30M394.80 377.40V421.30M391.30 421.30H398.30" stroke="#e63c3e" stroke-width="0.65" fill="none" stroke-opacity="0.55"/><path d="M417.60 433.80H424.60M421.10 433.80V453.20M417.60 453.20H424.60" stroke="#e63c3e" stroke-width="0.65" fill="none" stroke-opacity="0.55"/><text x="394.80" y="373.56" font-size="5.25" text-anchor="middle" font-weight="bold" fill="#111">26.9%</text><text x="421.10" y="461.76" font-size="5.25" text-anchor="middle" font-weight="bold" fill="#111">-2.6%</text><text x="394.70" y="494.94" font-size="4.05" text-anchor="middle" font-weight="normal" fill="#333" stroke="#333" stroke-width="0.1">Placebo</text><text x="394.70" y="499.28" font-size="3.9" text-anchor="middle" font-weight="normal" fill="#333" stroke="#333" stroke-width="0.1">(n=45)</text><text x="421.10" y="494.94" font-size="4.05" text-anchor="middle" font-weight="normal" fill="#333" stroke="#333" stroke-width="0.1">Deni</text><text x="421.10" y="499.28" font-size="3.9" text-anchor="middle" font-weight="normal" fill="#333" stroke="#333" stroke-width="0.1">(n=81)</text><path d="M376.50 500.20V502.90H431.50V500.20" stroke="#777" stroke-width="0.6" fill="none"/><text x="399.40" y="509.47" font-size="5.0" text-anchor="middle" font-weight="normal" fill="#222" style="font-family:&quot;Liberation Serif&quot;,serif">p &lt; 0.05</text><text x="468.20" y="363.55" font-size="5.48" text-anchor="middle" font-weight="normal" fill="#111" stroke="#111" stroke-width="0.14">LongStrPeriPortalAgg</text><rect x="445.85" y="419.00" width="18.50" height="20.80" fill="#adc0c4"/><rect x="471.95" y="439.80" width="18.50" height="26.52" fill="#0a9fc6"/><line x1="439.65" y1="439.80" x2="496.95" y2="439.80" stroke="#a8a8a8" stroke-width="1.0"/><line x1="439.65" y1="489.80" x2="496.95" y2="489.80" stroke="#909090" stroke-width="1.3"/><path d="M451.45 405.40H458.45M454.95 405.40V432.20M451.45 432.20H458.45" stroke="#e63c3e" stroke-width="0.65" fill="none" stroke-opacity="0.55"/><path d="M477.75 453.50H484.75M481.25 453.50V478.20M477.75 478.20H484.75" stroke="#e63c3e" stroke-width="0.65" fill="none" stroke-opacity="0.55"/><text x="454.95" y="401.86" font-size="5.25" text-anchor="middle" font-weight="bold" fill="#111">13.8%</text><text x="481.25" y="486.56" font-size="5.25" text-anchor="middle" font-weight="bold" fill="#111">-17.6%</text><text x="454.85" y="494.94" font-size="4.05" text-anchor="middle" font-weight="normal" fill="#333" stroke="#333" stroke-width="0.1">Placebo</text><text x="454.85" y="499.28" font-size="3.9" text-anchor="middle" font-weight="normal" fill="#333" stroke="#333" stroke-width="0.1">(n=45)</text><text x="481.25" y="494.94" font-size="4.05" text-anchor="middle" font-weight="normal" fill="#333" stroke="#333" stroke-width="0.1">Deni</text><text x="481.25" y="499.28" font-size="3.9" text-anchor="middle" font-weight="normal" fill="#333" stroke="#333" stroke-width="0.1">(n=81)</text><path d="M438.20 500.20V502.90H493.70V500.20" stroke="#777" stroke-width="0.6" fill="none"/><text x="462.90" y="508.77" font-size="5.0" text-anchor="middle" font-weight="normal" fill="#222" style="font-family:&quot;Liberation Serif&quot;,serif">p &lt; 0.001</text><text x="528.60" y="363.55" font-size="5.48" text-anchor="middle" font-weight="normal" fill="#111" stroke="#111" stroke-width="0.14">ThinStrPeriPortal</text><rect x="506.00" y="419.76" width="18.50" height="20.04" fill="#adc0c4"/><rect x="532.10" y="439.80" width="18.50" height="21.10" fill="#0a9fc6"/><line x1="499.80" y1="439.80" x2="557.10" y2="439.80" stroke="#a8a8a8" stroke-width="1.0"/><line x1="499.80" y1="489.80" x2="557.10" y2="489.80" stroke="#909090" stroke-width="1.3"/><path d="M511.60 407.40H518.60M515.10 407.40V431.90M511.60 431.90H518.60" stroke="#e63c3e" stroke-width="0.65" fill="none" stroke-opacity="0.55"/><path d="M537.90 450.70H544.90M541.40 450.70V470.80M537.90 470.80H544.90" stroke="#e63c3e" stroke-width="0.65" fill="none" stroke-opacity="0.55"/><text x="515.10" y="403.76" font-size="5.25" text-anchor="middle" font-weight="bold" fill="#111">13.3%</text><text x="541.40" y="479.16" font-size="5.25" text-anchor="middle" font-weight="bold" fill="#111">-14%</text><text x="515.00" y="494.94" font-size="4.05" text-anchor="middle" font-weight="normal" fill="#333" stroke="#333" stroke-width="0.1">Placebo</text><text x="515.00" y="499.28" font-size="3.9" text-anchor="middle" font-weight="normal" fill="#333" stroke="#333" stroke-width="0.1">(n=45)</text><text x="541.40" y="494.94" font-size="4.05" text-anchor="middle" font-weight="normal" fill="#333" stroke="#333" stroke-width="0.1">Deni</text><text x="541.40" y="499.28" font-size="3.9" text-anchor="middle" font-weight="normal" fill="#333" stroke="#333" stroke-width="0.1">(n=81)</text><path d="M500.90 500.60V503.30H555.60V500.60" stroke="#777" stroke-width="0.6" fill="none"/><text x="522.00" y="509.07" font-size="5.0" text-anchor="middle" font-weight="normal" fill="#222" style="font-family:&quot;Liberation Serif&quot;,serif">p &lt; 0.01</text><text x="588.60" y="363.55" font-size="5.48" text-anchor="middle" font-weight="normal" fill="#111" stroke="#111" stroke-width="0.14">ThinStrPeriPortalDis</text><rect x="566.15" y="420.66" width="18.50" height="19.14" fill="#adc0c4"/><rect x="592.25" y="439.80" width="18.50" height="18.39" fill="#0a9fc6"/><line x1="559.95" y1="439.80" x2="617.25" y2="439.80" stroke="#a8a8a8" stroke-width="1.0"/><line x1="559.95" y1="489.80" x2="617.25" y2="489.80" stroke="#909090" stroke-width="1.3"/><path d="M571.75 408.70H578.75M575.25 408.70V432.30M571.75 432.30H578.75" stroke="#e63c3e" stroke-width="0.65" fill="none" stroke-opacity="0.55"/><path d="M598.05 448.40H605.05M601.55 448.40V467.30M598.05 467.30H605.05" stroke="#e63c3e" stroke-width="0.65" fill="none" stroke-opacity="0.55"/><text x="575.25" y="404.66" font-size="5.25" text-anchor="middle" font-weight="bold" fill="#111">12.7%</text><text x="601.55" y="475.46" font-size="5.25" text-anchor="middle" font-weight="bold" fill="#111">-12.2%</text><text x="575.15" y="494.94" font-size="4.05" text-anchor="middle" font-weight="normal" fill="#333" stroke="#333" stroke-width="0.1">Placebo</text><text x="575.15" y="499.28" font-size="3.9" text-anchor="middle" font-weight="normal" fill="#333" stroke="#333" stroke-width="0.1">(n=45)</text><text x="601.55" y="494.94" font-size="4.05" text-anchor="middle" font-weight="normal" fill="#333" stroke="#333" stroke-width="0.1">Deni</text><text x="601.55" y="499.28" font-size="3.9" text-anchor="middle" font-weight="normal" fill="#333" stroke="#333" stroke-width="0.1">(n=81)</text><path d="M560.20 501.10V503.80H615.20V501.10" stroke="#777" stroke-width="0.6" fill="none"/><text x="583.10" y="509.47" font-size="5.0" text-anchor="middle" font-weight="normal" fill="#222" style="font-family:&quot;Liberation Serif&quot;,serif">p &lt; 0.01</text><text x="649.10" y="363.55" font-size="5.48" text-anchor="middle" font-weight="normal" fill="#111" stroke="#111" stroke-width="0.14">StrLengthPeriPortal</text><rect x="626.30" y="420.36" width="18.50" height="19.44" fill="#adc0c4"/><rect x="652.40" y="439.80" width="18.50" height="25.47" fill="#0a9fc6"/><line x1="620.10" y1="439.80" x2="677.40" y2="439.80" stroke="#a8a8a8" stroke-width="1.0"/><line x1="620.10" y1="489.80" x2="677.40" y2="489.80" stroke="#909090" stroke-width="1.3"/><path d="M631.90 408.30H638.90M635.40 408.30V432.00M631.90 432.00H638.90" stroke="#e63c3e" stroke-width="0.65" fill="none" stroke-opacity="0.55"/><path d="M658.20 454.40H665.20M661.70 454.40V476.40M658.20 476.40H665.20" stroke="#e63c3e" stroke-width="0.65" fill="none" stroke-opacity="0.55"/><text x="635.40" y="404.16" font-size="5.25" text-anchor="middle" font-weight="bold" fill="#111">12.9%</text><text x="661.70" y="484.66" font-size="5.25" text-anchor="middle" font-weight="bold" fill="#111">-16.9%</text><text x="635.30" y="494.94" font-size="4.05" text-anchor="middle" font-weight="normal" fill="#333" stroke="#333" stroke-width="0.1">Placebo</text><text x="635.30" y="499.28" font-size="3.9" text-anchor="middle" font-weight="normal" fill="#333" stroke="#333" stroke-width="0.1">(n=45)</text><text x="661.70" y="494.94" font-size="4.05" text-anchor="middle" font-weight="normal" fill="#333" stroke="#333" stroke-width="0.1">Deni</text><text x="661.70" y="499.28" font-size="3.9" text-anchor="middle" font-weight="normal" fill="#333" stroke="#333" stroke-width="0.1">(n=81)</text><path d="M621.40 500.20V502.90H676.60V500.20" stroke="#777" stroke-width="0.6" fill="none"/><text x="643.50" y="508.38" font-size="5.0" text-anchor="middle" font-weight="normal" fill="#222" style="font-family:&quot;Liberation Serif&quot;,serif">p &lt; 0.001</text><text x="379.10" y="525.81" font-size="5.11" text-anchor="start" font-weight="normal" fill="#222">Two-sided t-test at the 0.05 significance level.</text><text x="873.40" y="127.76" font-size="7.21" text-anchor="middle" font-weight="bold" fill="#111">Denifanstat significantly decreased qFibrosis collagen features compared</text><text x="767.6" y="136.06" font-size="7.2" font-weight="bold" fill="#111">to placebo in patients <tspan text-decoration="underline">carrying two or more risk variant genes</tspan></text><text transform="translate(715.40,322.80) rotate(-90)" x="0" y="2.55" font-size="7.17" text-anchor="middle" font-weight="bold" fill="#111">qFibrosis-based Collagen Features</text><text transform="translate(726.00,325.60) rotate(-90)" x="0" y="2.79" font-size="7.86" text-anchor="middle" font-weight="bold" fill="#111">Continuous value percentage change (mean, sem)</text><text x="870.20" y="151.66" font-size="6.94" text-anchor="middle" font-weight="bold" fill="#111">LongStrPeriPortalAgg</text><rect x="753.20" y="180.10" width="28.80" height="15.11" fill="#b3c4c7"/><rect x="794.10" y="180.10" width="28.80" height="3.51" fill="#b3c4c7"/><rect x="835.30" y="174.45" width="28.80" height="5.65" fill="#b3c4c7"/><rect x="876.30" y="180.10" width="28.80" height="11.04" fill="#3c9ac6"/><rect x="917.50" y="180.10" width="28.80" height="4.22" fill="#3c9ac6"/><rect x="958.70" y="180.10" width="28.80" height="7.68" fill="#3c9ac6"/><line x1="742.80" y1="180.10" x2="997.80" y2="180.10" stroke="#6a6a6a" stroke-width="0.8"/><line x1="742.80" y1="155.10" x2="742.80" y2="203.30" stroke="#333" stroke-width="0.9"/><line x1="742.40" y1="202.70" x2="997.80" y2="202.70" stroke="#333" stroke-width="1.1"/><text x="740.00" y="157.86" font-size="4.4" text-anchor="end" font-weight="normal" fill="#444">80</text><text x="740.00" y="169.76" font-size="4.4" text-anchor="end" font-weight="normal" fill="#444">40</text><text x="740.00" y="181.66" font-size="4.4" text-anchor="end" font-weight="normal" fill="#444">0</text><text x="740.00" y="193.56" font-size="4.4" text-anchor="end" font-weight="normal" fill="#444">−40</text><path d="M762.40 194.90H772.80M767.60 194.90V195.50M762.40 195.50H772.80" stroke="#d9332d" stroke-width="0.6" fill="none" stroke-opacity="0.62"/><text x="767.60" y="199.80" font-size="5.35" text-anchor="middle" font-weight="bold" fill="#111">−50.8%</text><text x="767.60" y="208.73" font-size="4.88" text-anchor="middle" font-weight="normal" fill="#333" stroke="#333" stroke-width="0.1">Placebo 0</text><text x="767.60" y="214.07" font-size="4.7" text-anchor="middle" font-weight="normal" fill="#333" stroke="#333" stroke-width="0.1">(n=1)</text><path d="M803.30 176.00H813.70M808.50 176.00V190.80M803.30 190.80H813.70" stroke="#d9332d" stroke-width="0.6" fill="none" stroke-opacity="0.62"/><text x="808.50" y="196.60" font-size="5.35" text-anchor="middle" font-weight="bold" fill="#111">−11.8%</text><text x="808.50" y="208.73" font-size="4.88" text-anchor="middle" font-weight="normal" fill="#333" stroke="#333" stroke-width="0.1">Placebo 1</text><text x="808.50" y="214.07" font-size="4.7" text-anchor="middle" font-weight="normal" fill="#333" stroke="#333" stroke-width="0.1">(n=6)</text><path d="M844.50 170.60H854.90M849.70 170.60V178.50M844.50 178.50H854.90" stroke="#d9332d" stroke-width="0.6" fill="none" stroke-opacity="0.62"/><text x="849.70" y="169.50" font-size="5.35" text-anchor="middle" font-weight="bold" fill="#111">19%</text><text x="849.70" y="208.73" font-size="4.88" text-anchor="middle" font-weight="normal" fill="#333" stroke="#333" stroke-width="0.1">Placebo &gt;=2</text><text x="849.70" y="214.07" font-size="4.7" text-anchor="middle" font-weight="normal" fill="#333" stroke="#333" stroke-width="0.1">(n=21)</text><path d="M885.50 189.75H895.90M890.70 189.75V192.60M885.50 192.60H895.90" stroke="#d9332d" stroke-width="0.6" fill="none" stroke-opacity="0.62"/><text x="890.70" y="197.40" font-size="5.35" text-anchor="middle" font-weight="bold" fill="#111">−37.1%</text><text x="890.70" y="208.73" font-size="4.88" text-anchor="middle" font-weight="normal" fill="#333" stroke="#333" stroke-width="0.1">Deni 0</text><text x="890.70" y="214.07" font-size="4.7" text-anchor="middle" font-weight="normal" fill="#333" stroke="#333" stroke-width="0.1">(n=4)</text><path d="M926.70 179.70H937.10M931.90 179.70V188.70M926.70 188.70H937.10" stroke="#d9332d" stroke-width="0.6" fill="none" stroke-opacity="0.62"/><text x="931.90" y="194.40" font-size="5.35" text-anchor="middle" font-weight="bold" fill="#111">−14.2%</text><text x="931.90" y="208.73" font-size="4.88" text-anchor="middle" font-weight="normal" fill="#333" stroke="#333" stroke-width="0.1">Deni 1</text><text x="931.90" y="214.07" font-size="4.7" text-anchor="middle" font-weight="normal" fill="#333" stroke="#333" stroke-width="0.1">(n=19)</text><path d="M967.90 184.60H978.30M973.10 184.60V190.30M967.90 190.30H978.30" stroke="#d9332d" stroke-width="0.6" fill="none" stroke-opacity="0.62"/><text x="973.10" y="195.70" font-size="5.35" text-anchor="middle" font-weight="bold" fill="#111">−25.8%</text><text x="973.10" y="208.73" font-size="4.88" text-anchor="middle" font-weight="normal" fill="#333" stroke="#333" stroke-width="0.1">Deni &gt;=2</text><text x="973.10" y="214.07" font-size="4.7" text-anchor="middle" font-weight="normal" fill="#333" stroke="#333" stroke-width="0.1">(n=30)</text><path d="M810.50 167.20V164.60H928.20V167.20" stroke="#666" stroke-width="0.55" fill="none"/><text x="817.80" y="162.49" font-size="4.2" text-anchor="middle" font-weight="normal" fill="#222">NS</text><path d="M853.40 161.50V157.30H980.20V161.50" stroke="#666" stroke-width="0.55" fill="none"/><text x="919.30" y="155.19" font-size="4.2" text-anchor="middle" font-weight="normal" fill="#2a2a2a">p &lt; 0.05</text><text x="870.20" y="226.16" font-size="6.94" text-anchor="middle" font-weight="bold" fill="#111">ThinStrPeriPortal</text><rect x="753.20" y="254.40" width="28.80" height="14.55" fill="#b3c4c7"/><rect x="794.10" y="254.40" width="28.80" height="4.46" fill="#b3c4c7"/><rect x="835.30" y="249.97" width="28.80" height="4.43" fill="#b3c4c7"/><rect x="876.30" y="254.40" width="28.80" height="9.34" fill="#3c9ac6"/><rect x="917.50" y="254.40" width="28.80" height="3.99" fill="#3c9ac6"/><rect x="958.70" y="254.40" width="28.80" height="5.06" fill="#3c9ac6"/><line x1="742.80" y1="254.40" x2="997.80" y2="254.40" stroke="#6a6a6a" stroke-width="0.8"/><line x1="742.80" y1="229.40" x2="742.80" y2="277.60" stroke="#333" stroke-width="0.9"/><line x1="742.40" y1="277.00" x2="997.80" y2="277.00" stroke="#333" stroke-width="1.1"/><text x="740.00" y="232.16" font-size="4.4" text-anchor="end" font-weight="normal" fill="#444">80</text><text x="740.00" y="244.06" font-size="4.4" text-anchor="end" font-weight="normal" fill="#444">40</text><text x="740.00" y="255.96" font-size="4.4" text-anchor="end" font-weight="normal" fill="#444">0</text><text x="740.00" y="267.86" font-size="4.4" text-anchor="end" font-weight="normal" fill="#444">−40</text><path d="M762.40 268.60H772.80M767.60 268.60V269.20M762.40 269.20H772.80" stroke="#d9332d" stroke-width="0.6" fill="none" stroke-opacity="0.62"/><text x="767.60" y="273.60" font-size="5.35" text-anchor="middle" font-weight="bold" fill="#111">−48.9%</text><text x="767.60" y="283.03" font-size="4.88" text-anchor="middle" font-weight="normal" fill="#333" stroke="#333" stroke-width="0.1">Placebo 0</text><text x="767.60" y="288.37" font-size="4.7" text-anchor="middle" font-weight="normal" fill="#333" stroke="#333" stroke-width="0.1">(n=1)</text><path d="M803.30 252.50H813.70M808.50 252.50V264.60M803.30 264.60H813.70" stroke="#d9332d" stroke-width="0.6" fill="none" stroke-opacity="0.62"/><text x="808.50" y="270.50" font-size="5.35" text-anchor="middle" font-weight="bold" fill="#111">−15%</text><text x="808.50" y="283.03" font-size="4.88" text-anchor="middle" font-weight="normal" fill="#333" stroke="#333" stroke-width="0.1">Placebo 1</text><text x="808.50" y="288.37" font-size="4.7" text-anchor="middle" font-weight="normal" fill="#333" stroke="#333" stroke-width="0.1">(n=6)</text><path d="M844.50 246.10H854.90M849.70 246.10V253.80M844.50 253.80H854.90" stroke="#d9332d" stroke-width="0.6" fill="none" stroke-opacity="0.62"/><text x="849.70" y="245.40" font-size="5.35" text-anchor="middle" font-weight="bold" fill="#111">14.9%</text><text x="849.70" y="283.03" font-size="4.88" text-anchor="middle" font-weight="normal" fill="#333" stroke="#333" stroke-width="0.1">Placebo &gt;=2</text><text x="849.70" y="288.37" font-size="4.7" text-anchor="middle" font-weight="normal" fill="#333" stroke="#333" stroke-width="0.1">(n=21)</text><path d="M885.50 261.20H895.90M890.70 261.20V266.50M885.50 266.50H895.90" stroke="#d9332d" stroke-width="0.6" fill="none" stroke-opacity="0.62"/><text x="890.70" y="271.80" font-size="5.35" text-anchor="middle" font-weight="bold" fill="#111">−31.4%</text><text x="890.70" y="283.03" font-size="4.88" text-anchor="middle" font-weight="normal" fill="#333" stroke="#333" stroke-width="0.1">Deni 0</text><text x="890.70" y="288.37" font-size="4.7" text-anchor="middle" font-weight="normal" fill="#333" stroke="#333" stroke-width="0.1">(n=4)</text><path d="M926.70 254.60H937.10M931.90 254.60V262.50M926.70 262.50H937.10" stroke="#d9332d" stroke-width="0.6" fill="none" stroke-opacity="0.62"/><text x="931.90" y="267.60" font-size="5.35" text-anchor="middle" font-weight="bold" fill="#111">−13.4%</text><text x="931.90" y="283.03" font-size="4.88" text-anchor="middle" font-weight="normal" fill="#333" stroke="#333" stroke-width="0.1">Deni 1</text><text x="931.90" y="288.37" font-size="4.7" text-anchor="middle" font-weight="normal" fill="#333" stroke="#333" stroke-width="0.1">(n=19)</text><path d="M967.90 256.70H978.30M973.10 256.70V262.50M967.90 262.50H978.30" stroke="#d9332d" stroke-width="0.6" fill="none" stroke-opacity="0.62"/><text x="973.10" y="267.00" font-size="5.35" text-anchor="middle" font-weight="bold" fill="#111">−17%</text><text x="973.10" y="283.03" font-size="4.88" text-anchor="middle" font-weight="normal" fill="#333" stroke="#333" stroke-width="0.1">Deni &gt;=2</text><text x="973.10" y="288.37" font-size="4.7" text-anchor="middle" font-weight="normal" fill="#333" stroke="#333" stroke-width="0.1">(n=30)</text><path d="M807.50 242.20V239.60H931.50V242.20" stroke="#666" stroke-width="0.55" fill="none"/><text x="816.60" y="237.99" font-size="4.2" text-anchor="middle" font-weight="normal" fill="#222">NS</text><path d="M848.40 237.50V234.30H972.80V237.50" stroke="#666" stroke-width="0.55" fill="none"/><text x="916.90" y="232.29" font-size="4.2" text-anchor="middle" font-weight="normal" fill="#2a2a2a">p &lt; 0.05</text><text x="870.20" y="300.66" font-size="6.94" text-anchor="middle" font-weight="bold" fill="#111">ThinStrPeriPortalDis</text><rect x="753.20" y="328.80" width="28.80" height="14.76" fill="#b3c4c7"/><rect x="794.10" y="328.80" width="28.80" height="4.97" fill="#b3c4c7"/><rect x="835.30" y="324.93" width="28.80" height="3.87" fill="#b3c4c7"/><rect x="876.30" y="328.80" width="28.80" height="7.94" fill="#3c9ac6"/><rect x="917.50" y="328.80" width="28.80" height="3.39" fill="#3c9ac6"/><rect x="958.70" y="328.80" width="28.80" height="4.08" fill="#3c9ac6"/><line x1="742.80" y1="328.80" x2="997.80" y2="328.80" stroke="#6a6a6a" stroke-width="0.8"/><line x1="742.80" y1="303.80" x2="742.80" y2="352.00" stroke="#333" stroke-width="0.9"/><line x1="742.40" y1="351.40" x2="997.80" y2="351.40" stroke="#333" stroke-width="1.1"/><text x="740.00" y="306.56" font-size="4.4" text-anchor="end" font-weight="normal" fill="#444">80</text><text x="740.00" y="318.46" font-size="4.4" text-anchor="end" font-weight="normal" fill="#444">40</text><text x="740.00" y="330.36" font-size="4.4" text-anchor="end" font-weight="normal" fill="#444">0</text><text x="740.00" y="342.26" font-size="4.4" text-anchor="end" font-weight="normal" fill="#444">−40</text><path d="M762.40 343.20H772.80M767.60 343.20V343.80M762.40 343.80H772.80" stroke="#d9332d" stroke-width="0.6" fill="none" stroke-opacity="0.62"/><text x="767.60" y="348.10" font-size="5.35" text-anchor="middle" font-weight="bold" fill="#111">−49.6%</text><text x="767.60" y="357.43" font-size="4.88" text-anchor="middle" font-weight="normal" fill="#333" stroke="#333" stroke-width="0.1">Placebo 0</text><text x="767.60" y="362.77" font-size="4.7" text-anchor="middle" font-weight="normal" fill="#333" stroke="#333" stroke-width="0.1">(n=1)</text><path d="M803.30 328.30H813.70M808.50 328.30V339.60M803.30 339.60H813.70" stroke="#d9332d" stroke-width="0.6" fill="none" stroke-opacity="0.62"/><text x="808.50" y="344.70" font-size="5.35" text-anchor="middle" font-weight="bold" fill="#111">−16.7%</text><text x="808.50" y="357.43" font-size="4.88" text-anchor="middle" font-weight="normal" fill="#333" stroke="#333" stroke-width="0.1">Placebo 1</text><text x="808.50" y="362.77" font-size="4.7" text-anchor="middle" font-weight="normal" fill="#333" stroke="#333" stroke-width="0.1">(n=6)</text><path d="M844.50 321.10H854.90M849.70 321.10V328.50M844.50 328.50H854.90" stroke="#d9332d" stroke-width="0.6" fill="none" stroke-opacity="0.62"/><text x="849.70" y="320.40" font-size="5.35" text-anchor="middle" font-weight="bold" fill="#111">13%</text><text x="849.70" y="357.43" font-size="4.88" text-anchor="middle" font-weight="normal" fill="#333" stroke="#333" stroke-width="0.1">Placebo &gt;=2</text><text x="849.70" y="362.77" font-size="4.7" text-anchor="middle" font-weight="normal" fill="#333" stroke="#333" stroke-width="0.1">(n=21)</text><path d="M885.50 333.00H895.90M890.70 333.00V339.60M885.50 339.60H895.90" stroke="#d9332d" stroke-width="0.6" fill="none" stroke-opacity="0.62"/><text x="890.70" y="345.20" font-size="5.35" text-anchor="middle" font-weight="bold" fill="#111">−26.7%</text><text x="890.70" y="357.43" font-size="4.88" text-anchor="middle" font-weight="normal" fill="#333" stroke="#333" stroke-width="0.1">Deni 0</text><text x="890.70" y="362.77" font-size="4.7" text-anchor="middle" font-weight="normal" fill="#333" stroke="#333" stroke-width="0.1">(n=4)</text><path d="M926.70 328.30H937.10M931.90 328.30V335.40M926.70 335.40H937.10" stroke="#d9332d" stroke-width="0.6" fill="none" stroke-opacity="0.62"/><text x="931.90" y="341.00" font-size="5.35" text-anchor="middle" font-weight="bold" fill="#111">−11.4%</text><text x="931.90" y="357.43" font-size="4.88" text-anchor="middle" font-weight="normal" fill="#333" stroke="#333" stroke-width="0.1">Deni 1</text><text x="931.90" y="362.77" font-size="4.7" text-anchor="middle" font-weight="normal" fill="#333" stroke="#333" stroke-width="0.1">(n=19)</text><path d="M967.90 330.90H978.30M973.10 330.90V334.90M967.90 334.90H978.30" stroke="#d9332d" stroke-width="0.6" fill="none" stroke-opacity="0.62"/><text x="973.10" y="340.20" font-size="5.35" text-anchor="middle" font-weight="bold" fill="#111">−13.7%</text><text x="973.10" y="357.43" font-size="4.88" text-anchor="middle" font-weight="normal" fill="#333" stroke="#333" stroke-width="0.1">Deni &gt;=2</text><text x="973.10" y="362.77" font-size="4.7" text-anchor="middle" font-weight="normal" fill="#333" stroke="#333" stroke-width="0.1">(n=30)</text><path d="M806.80 317.90V315.30H930.80V317.90" stroke="#666" stroke-width="0.55" fill="none"/><text x="816.80" y="313.19" font-size="4.2" text-anchor="middle" font-weight="normal" fill="#222">NS</text><path d="M847.70 313.50V310.30H971.70V313.50" stroke="#666" stroke-width="0.55" fill="none"/><text x="917.00" y="308.79" font-size="4.2" text-anchor="middle" font-weight="normal" fill="#2a2a2a">p = 0.06</text><text x="870.20" y="374.86" font-size="6.94" text-anchor="middle" font-weight="bold" fill="#111">StrLengthPeriPortal</text><rect x="753.20" y="403.10" width="28.80" height="15.65" fill="#b3c4c7"/><rect x="794.10" y="403.10" width="28.80" height="4.08" fill="#b3c4c7"/><rect x="835.30" y="398.28" width="28.80" height="4.82" fill="#b3c4c7"/><rect x="876.30" y="403.10" width="28.80" height="9.79" fill="#3c9ac6"/><rect x="917.50" y="403.10" width="28.80" height="4.25" fill="#3c9ac6"/><rect x="958.70" y="403.10" width="28.80" height="7.20" fill="#3c9ac6"/><line x1="742.80" y1="403.10" x2="997.80" y2="403.10" stroke="#6a6a6a" stroke-width="0.8"/><line x1="742.80" y1="378.10" x2="742.80" y2="426.30" stroke="#333" stroke-width="0.9"/><line x1="742.40" y1="425.70" x2="997.80" y2="425.70" stroke="#333" stroke-width="1.1"/><text x="740.00" y="380.86" font-size="4.4" text-anchor="end" font-weight="normal" fill="#444">80</text><text x="740.00" y="392.76" font-size="4.4" text-anchor="end" font-weight="normal" fill="#444">40</text><text x="740.00" y="404.66" font-size="4.4" text-anchor="end" font-weight="normal" fill="#444">0</text><text x="740.00" y="416.56" font-size="4.4" text-anchor="end" font-weight="normal" fill="#444">−40</text><path d="M762.40 418.40H772.80M767.60 418.40V419.00M762.40 419.00H772.80" stroke="#d9332d" stroke-width="0.6" fill="none" stroke-opacity="0.62"/><text x="767.60" y="423.40" font-size="5.35" text-anchor="middle" font-weight="bold" fill="#111">−52.6%</text><text x="767.60" y="431.73" font-size="4.88" text-anchor="middle" font-weight="normal" fill="#333" stroke="#333" stroke-width="0.1">Placebo 0</text><text x="767.60" y="437.07" font-size="4.7" text-anchor="middle" font-weight="normal" fill="#333" stroke="#333" stroke-width="0.1">(n=1)</text><path d="M803.30 399.40H813.70M808.50 399.40V414.10M803.30 414.10H813.70" stroke="#d9332d" stroke-width="0.6" fill="none" stroke-opacity="0.62"/><text x="808.50" y="419.50" font-size="5.35" text-anchor="middle" font-weight="bold" fill="#111">−13.7%</text><text x="808.50" y="431.73" font-size="4.88" text-anchor="middle" font-weight="normal" fill="#333" stroke="#333" stroke-width="0.1">Placebo 1</text><text x="808.50" y="437.07" font-size="4.7" text-anchor="middle" font-weight="normal" fill="#333" stroke="#333" stroke-width="0.1">(n=6)</text><path d="M844.50 394.90H854.90M849.70 394.90V402.50M844.50 402.50H854.90" stroke="#d9332d" stroke-width="0.6" fill="none" stroke-opacity="0.62"/><text x="849.70" y="393.60" font-size="5.35" text-anchor="middle" font-weight="bold" fill="#111">16.2%</text><text x="849.70" y="431.73" font-size="4.88" text-anchor="middle" font-weight="normal" fill="#333" stroke="#333" stroke-width="0.1">Placebo &gt;=2</text><text x="849.70" y="437.07" font-size="4.7" text-anchor="middle" font-weight="normal" fill="#333" stroke="#333" stroke-width="0.1">(n=21)</text><path d="M885.50 410.20H895.90M890.70 410.20V414.70M885.50 414.70H895.90" stroke="#d9332d" stroke-width="0.6" fill="none" stroke-opacity="0.62"/><text x="890.70" y="420.50" font-size="5.35" text-anchor="middle" font-weight="bold" fill="#111">−32.9%</text><text x="890.70" y="431.73" font-size="4.88" text-anchor="middle" font-weight="normal" fill="#333" stroke="#333" stroke-width="0.1">Deni 0</text><text x="890.70" y="437.07" font-size="4.7" text-anchor="middle" font-weight="normal" fill="#333" stroke="#333" stroke-width="0.1">(n=4)</text><path d="M926.70 403.00H937.10M931.90 403.00V411.50M926.70 411.50H937.10" stroke="#d9332d" stroke-width="0.6" fill="none" stroke-opacity="0.62"/><text x="931.90" y="416.60" font-size="5.35" text-anchor="middle" font-weight="bold" fill="#111">−14.3%</text><text x="931.90" y="431.73" font-size="4.88" text-anchor="middle" font-weight="normal" fill="#333" stroke="#333" stroke-width="0.1">Deni 1</text><text x="931.90" y="437.07" font-size="4.7" text-anchor="middle" font-weight="normal" fill="#333" stroke="#333" stroke-width="0.1">(n=19)</text><path d="M967.90 407.50H978.30M973.10 407.50V412.30M967.90 412.30H978.30" stroke="#d9332d" stroke-width="0.6" fill="none" stroke-opacity="0.62"/><text x="973.10" y="417.60" font-size="5.35" text-anchor="middle" font-weight="bold" fill="#111">−24.2%</text><text x="973.10" y="431.73" font-size="4.88" text-anchor="middle" font-weight="normal" fill="#333" stroke="#333" stroke-width="0.1">Deni &gt;=2</text><text x="973.10" y="437.07" font-size="4.7" text-anchor="middle" font-weight="normal" fill="#333" stroke="#333" stroke-width="0.1">(n=30)</text><path d="M805.70 391.40V388.80H929.70V391.40" stroke="#666" stroke-width="0.55" fill="none"/><text x="816.80" y="385.89" font-size="4.2" text-anchor="middle" font-weight="normal" fill="#222">NS</text><path d="M847.10 387.00V383.80H970.60V387.00" stroke="#666" stroke-width="0.55" fill="none"/><text x="917.00" y="381.89" font-size="4.2" text-anchor="middle" font-weight="normal" fill="#2a2a2a">p &lt; 0.05</text><text x="870.20" y="449.16" font-size="6.94" text-anchor="middle" font-weight="bold" fill="#111">IntersectionPT</text><rect x="753.20" y="477.40" width="28.80" height="8.12" fill="#b3c4c7"/><rect x="794.10" y="477.40" width="28.80" height="1.99" fill="#b3c4c7"/><rect x="835.30" y="466.60" width="28.80" height="10.80" fill="#b3c4c7"/><rect x="876.30" y="477.40" width="28.80" height="8.48" fill="#3c9ac6"/><rect x="917.50" y="475.70" width="28.80" height="1.70" fill="#3c9ac6"/><rect x="958.70" y="477.40" width="28.80" height="1.22" fill="#3c9ac6"/><line x1="742.80" y1="477.40" x2="997.80" y2="477.40" stroke="#6a6a6a" stroke-width="0.8"/><line x1="742.80" y1="452.40" x2="742.80" y2="500.60" stroke="#333" stroke-width="0.9"/><line x1="742.40" y1="500.00" x2="997.80" y2="500.00" stroke="#333" stroke-width="1.1"/><text x="740.00" y="455.16" font-size="4.4" text-anchor="end" font-weight="normal" fill="#444">80</text><text x="740.00" y="467.06" font-size="4.4" text-anchor="end" font-weight="normal" fill="#444">40</text><text x="740.00" y="478.96" font-size="4.4" text-anchor="end" font-weight="normal" fill="#444">0</text><text x="740.00" y="490.86" font-size="4.4" text-anchor="end" font-weight="normal" fill="#444">−40</text><path d="M762.40 485.30H772.80M767.60 485.30V485.90M762.40 485.90H772.80" stroke="#d9332d" stroke-width="0.6" fill="none" stroke-opacity="0.62"/><text x="767.60" y="490.60" font-size="5.35" text-anchor="middle" font-weight="bold" fill="#111">−27.3%</text><text x="767.60" y="506.03" font-size="4.88" text-anchor="middle" font-weight="normal" fill="#333" stroke="#333" stroke-width="0.1">Placebo 0</text><text x="767.60" y="511.37" font-size="4.7" text-anchor="middle" font-weight="normal" fill="#333" stroke="#333" stroke-width="0.1">(n=1)</text><path d="M803.30 472.30H813.70M808.50 472.30V486.80M803.30 486.80H813.70" stroke="#d9332d" stroke-width="0.6" fill="none" stroke-opacity="0.62"/><text x="808.50" y="492.10" font-size="5.35" text-anchor="middle" font-weight="bold" fill="#111">−6.7%</text><text x="808.50" y="506.03" font-size="4.88" text-anchor="middle" font-weight="normal" fill="#333" stroke="#333" stroke-width="0.1">Placebo 1</text><text x="808.50" y="511.37" font-size="4.7" text-anchor="middle" font-weight="normal" fill="#333" stroke="#333" stroke-width="0.1">(n=6)</text><path d="M844.50 459.60H854.90M849.70 459.60V474.10M844.50 474.10H854.90" stroke="#d9332d" stroke-width="0.6" fill="none" stroke-opacity="0.62"/><text x="849.70" y="458.40" font-size="5.35" text-anchor="middle" font-weight="bold" fill="#111">36.3%</text><text x="849.70" y="506.03" font-size="4.88" text-anchor="middle" font-weight="normal" fill="#333" stroke="#333" stroke-width="0.1">Placebo &gt;=2</text><text x="849.70" y="511.37" font-size="4.7" text-anchor="middle" font-weight="normal" fill="#333" stroke="#333" stroke-width="0.1">(n=21)</text><path d="M885.50 479.40H895.90M890.70 479.40V492.10M885.50 492.10H895.90" stroke="#d9332d" stroke-width="0.6" fill="none" stroke-opacity="0.62"/><text x="890.70" y="497.40" font-size="5.35" text-anchor="middle" font-weight="bold" fill="#111">−28.5%</text><text x="890.70" y="506.03" font-size="4.88" text-anchor="middle" font-weight="normal" fill="#333" stroke="#333" stroke-width="0.1">Deni 0</text><text x="890.70" y="511.37" font-size="4.7" text-anchor="middle" font-weight="normal" fill="#333" stroke="#333" stroke-width="0.1">(n=4)</text><path d="M926.70 471.00H937.10M931.90 471.00V480.20M926.70 480.20H937.10" stroke="#d9332d" stroke-width="0.6" fill="none" stroke-opacity="0.62"/><text x="931.90" y="470.20" font-size="5.35" text-anchor="middle" font-weight="bold" fill="#111">5.7%</text><text x="931.90" y="506.03" font-size="4.88" text-anchor="middle" font-weight="normal" fill="#333" stroke="#333" stroke-width="0.1">Deni 1</text><text x="931.90" y="511.37" font-size="4.7" text-anchor="middle" font-weight="normal" fill="#333" stroke="#333" stroke-width="0.1">(n=19)</text><path d="M967.90 475.50H978.30M973.10 475.50V481.50M967.90 481.50H978.30" stroke="#d9332d" stroke-width="0.6" fill="none" stroke-opacity="0.62"/><text x="973.10" y="486.90" font-size="5.35" text-anchor="middle" font-weight="bold" fill="#111">−4.1%</text><text x="973.10" y="506.03" font-size="4.88" text-anchor="middle" font-weight="normal" fill="#333" stroke="#333" stroke-width="0.1">Deni &gt;=2</text><text x="973.10" y="511.37" font-size="4.7" text-anchor="middle" font-weight="normal" fill="#333" stroke="#333" stroke-width="0.1">(n=30)</text><path d="M807.60 455.10V452.50H931.60V455.10" stroke="#666" stroke-width="0.55" fill="none"/><text x="817.60" y="451.79" font-size="4.2" text-anchor="middle" font-weight="normal" fill="#222">NS</text><path d="M849.00 452.50V449.30H973.80V452.50" stroke="#666" stroke-width="0.55" fill="none"/><text x="912.30" y="448.19" font-size="4.2" text-anchor="middle" font-weight="normal" fill="#2a2a2a">NS</text><text x="745.00" y="525.01" font-size="5.1" text-anchor="start" font-weight="normal" fill="#222">Two-sided t-test at the 0.05 significance level.</text></svg>
<div class="t" style="left:332.59999999999997px;top:570.60px;font-size:5.6px;line-height:9px;">&bull;</div>
<div class="t" style="left:342.7px;top:569.70px;font-size:7.22px;line-height:9px;">Digital pathology demonstrated denifanstat achieved significant anti-fibrotic benefit compared to placebo, including patients who showed no change or progression of fibrosis by conventional pathology</div>
<div class="t" style="left:342.7px;top:579.00px;font-size:7.22px;line-height:9px;">assessment</div>
<div class="t" style="left:332.59999999999997px;top:591.60px;font-size:5.6px;line-height:9px;">&bull;</div>
<div class="t" style="left:342.7px;top:590.70px;font-size:7.22px;line-height:9px;">Denifanstat decreased qFibrosis-based collagen features previously associated with major adverse liver outcomes, such as liver decompensation</div>
<div class="t" style="left:332.59999999999997px;top:603.50px;font-size:5.6px;line-height:9px;">&bull;</div>
<div class="t" style="left:342.7px;top:602.60px;font-size:7.22px;line-height:9px;">Denifanstat showed substantial reduction of collagen features in patients carrying several risk variants associated with fast fibrosis progression, including PNPLA3, MBOAT7 and TM6SF2 genes</div>
</body></html>
